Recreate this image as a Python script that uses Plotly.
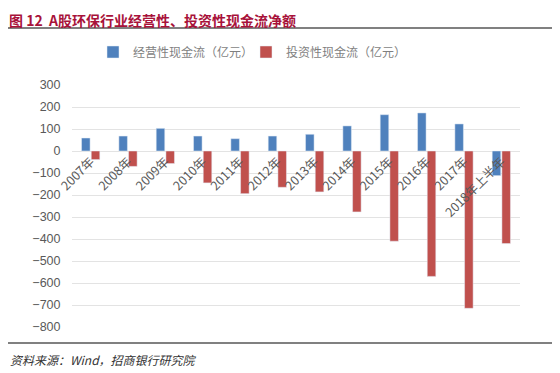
import plotly.graph_objects as go

categories = ["2007年", "2008年", "2009年", "2010年", "2011年", "2012年",
              "2013年", "2014年", "2015年", "2016年", "2017年", "2018年上半年"]
operating = [59, 68, 103, 68, 56, 68, 76, 114, 165, 173, 123, -112]
investing = [-39, -70, -57, -145, -194, -165, -186, -277, -410, -570, -715, -421]
y_ticks = [300, 200, 100, 0, -100, -200, -300, -400, -500, -600, -700, -800]

name_op = "经营性现金流（亿元）"
name_inv = "投资性现金流（亿元）"

OFF = 8  # browser body margin
W, H = 560 - OFF, 373 - OFF
ml, mr, mt, mb = 72 - OFF, 40, 85 - OFF, 46
pw, ph = W - ml - mr, H - mt - mb

def px(x):
    return (x - OFF - ml) / pw

def py(y):
    return (H - mb - (y - OFF)) / ph

fig = go.Figure()
fig.add_trace(go.Bar(x=categories, y=operating, name=name_op, marker_color="#4F81BD"))
fig.add_trace(go.Bar(x=categories, y=investing, name=name_inv, marker_color="#C0504D"))

ymin, ymax = -800, 300
font_cjk = "Noto Sans CJK SC"

fig.update_layout(
    width=W, height=H,
    margin=dict(l=ml, r=mr, t=mt, b=mb, autoexpand=False),
    paper_bgcolor="white", plot_bgcolor="white",
    barmode="group", bargap=0.48, bargroupgap=0.12,
    font=dict(family=font_cjk, size=12, color="#595959"),
    showlegend=True,
    legend=dict(orientation="h", x=px(246), y=py(52), xanchor="center", yanchor="middle",
                font=dict(size=12, color="#7f7f7f"), itemwidth=30,
                entrywidth=108, entrywidthmode="pixels",
                bgcolor="rgba(0,0,0,0)"),
    xaxis=dict(anchor="free", position=(0 - ymin) / (ymax - ymin), tickangle=-45,
               showgrid=False, showline=False, ticks="", zeroline=False, automargin=False,
               tickfont=dict(size=12.5, color="#595959", family=font_cjk)),
    yaxis=dict(range=[ymin, ymax], tickvals=y_ticks, showgrid=True, gridcolor="#e3e3e3",
               gridwidth=1, zeroline=False, showline=False, automargin=False,
               ticks="outside", ticklen=8, tickcolor="rgba(0,0,0,0)",
               tickfont=dict(size=12.5, color="#595959", family="Liberation Sans")),
)

fig.add_shape(type="line", xref="paper", yref="paper", x0=px(6), x1=px(556),
              y0=py(28), y1=py(28), line=dict(color="#808080", width=2))
fig.add_shape(type="line", xref="paper", yref="paper", x0=px(5), x1=px(557),
              y0=py(343), y1=py(343), line=dict(color="#808080", width=2))

fig.add_annotation(text="<b>图 12  A股环保行业经营性、投资性现金流净额</b>", xref="paper", yref="paper",
                   x=px(7), y=py(8), xanchor="left", yanchor="top", showarrow=False,
                   font=dict(size=14, color="#A8123A", family=font_cjk))
fig.add_annotation(text="<i>资料来源：Wind，招商银行研究院</i>", xref="paper", yref="paper",
                   x=px(8), y=py(360), xanchor="left", yanchor="middle", showarrow=False,
                   font=dict(size=12, color="#333333", family=font_cjk))

fig.write_html("out.html")
